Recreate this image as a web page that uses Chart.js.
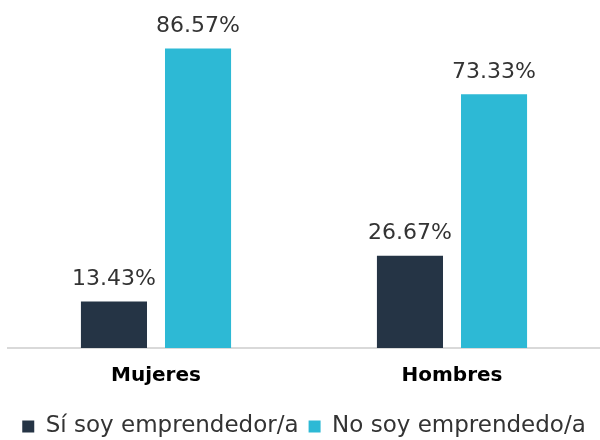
<!DOCTYPE html>
<html>
<head>
<meta charset="utf-8">
<script src="https://cdn.jsdelivr.net/npm/chart.js@4"></script>
<style>
  html, body { margin: 0; padding: 0; background: #fff; }
  #wrap { width: 600px; height: 440px; }
</style>
</head>
<body>
<div id="wrap"><canvas id="chart" width="600" height="440"></canvas></div>
<script>
const categories = ['Mujeres', 'Hombres'];
const siEmprendedor = [13.43, 26.67];
const noEmprendedor = [86.57, 73.33];
const seriesNames = ['Sí soy emprendedor/a', 'No soy emprendedo/a'];

const FONT = "'DejaVu Sans', sans-serif";

// draws the percentage above every bar
const valueLabels = {
  id: 'valueLabels',
  afterDatasetsDraw(chart) {
    const ctx = chart.ctx;
    ctx.save();
    ctx.font = 'normal 22px ' + FONT;
    ctx.fillStyle = '#333333';
    ctx.textAlign = 'center';
    ctx.textBaseline = 'bottom';
    chart.data.datasets.forEach((ds, i) => {
      chart.getDatasetMeta(i).data.forEach((bar, j) => {
        ctx.fillText(ds.data[j].toFixed(2) + '%', bar.x, bar.y - 11);
      });
    });
    ctx.restore();
  }
};

new Chart(document.getElementById('chart'), {
  type: 'bar',
  data: {
    labels: categories,
    datasets: [
      { label: seriesNames[0], data: siEmprendedor, backgroundColor: '#253445' },
      { label: seriesNames[1], data: noEmprendedor, backgroundColor: '#2db9d5' }
    ]
  },
  options: {
    responsive: false,
    animation: false,
    layout: { padding: { left: 8, right: 0, top: 2, bottom: -8 } },
    categoryPercentage: 0.568,
    barPercentage: 0.786,
    scales: {
      y: { display: false, min: 0, max: 100 },
      x: {
        grid: { display: false, drawTicks: false },
        border: { display: true, color: '#d9d9d9', width: 2 },
        ticks: {
          color: '#000',
          padding: 16,
          font: { family: FONT, size: 20, weight: 'bold' }
        },
        afterFit(scale) { scale.height += 1; }
      }
    },
    plugins: {
      tooltip: { enabled: false },
      legend: {
        position: 'bottom',
        labels: {
          color: '#333333',
          boxWidth: 12,
          boxHeight: 12,
          padding: 10,
          font: { family: FONT, size: 23, weight: 'normal' }
        }
      }
    }
  },
  plugins: [valueLabels]
});
</script>
</body>
</html>
